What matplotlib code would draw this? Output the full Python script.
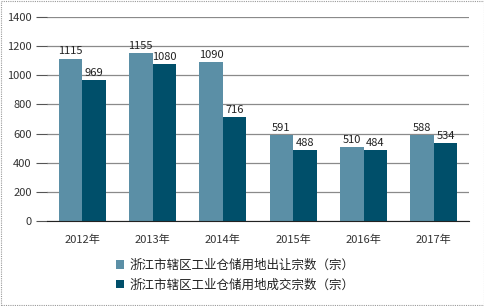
import matplotlib.pyplot as plt
import numpy as np

plt.rcParams['font.family'] = ['Noto Sans CJK SC', 'DejaVu Sans']

years = ['2012年', '2013年', '2014年', '2015年', '2016年', '2017年']
transfer = [1115, 1155, 1090, 591, 510, 588]
deals = [969, 1080, 716, 488, 484, 534]
names = ['浙江市辖区工业仓储用地出让宗数（宗）', '浙江市辖区工业仓储用地成交宗数（宗）']
yticks = [0, 200, 400, 600, 800, 1000, 1200, 1400]

c1 = '#5b8fa6'
c2 = '#004f6a'

fig = plt.figure(figsize=(4.85, 3.06), dpi=100)
ax = fig.add_axes([0.097, 0.278, 0.870, 0.666])

x = np.arange(len(years))
w = 0.335
b1 = ax.bar(x - w / 2, transfer, w, color=c1, label=names[0], zorder=2)
b2 = ax.bar(x + w / 2, deals, w, color=c2, label=names[1], zorder=2)

for rect, v in zip(b1, transfer):
    ax.text(rect.get_x() + rect.get_width() / 2, v + 15, str(v),
            ha='center', va='bottom', fontsize=8, color='#222222', zorder=4)
for rect, v in zip(b2, deals):
    ax.text(rect.get_x() + rect.get_width() / 2, v + 15, str(v),
            ha='center', va='bottom', fontsize=8, color='#222222', zorder=4)

ax.set_xlim(-0.5, len(years) - 0.5)
ax.set_ylim(0, 1400)
ax.set_yticks(yticks)
ax.set_xticks(x)
ax.set_xticklabels(years)
ax.yaxis.grid(True, color='#8a8a8a', linewidth=0.9, zorder=0)
ax.set_axisbelow(True)
for s in ['top', 'right', 'left']:
    ax.spines[s].set_visible(False)
ax.spines['bottom'].set_color('#222222')
ax.tick_params(axis='y', length=8, color='#555555', labelsize=8, labelcolor='#333333', pad=3)
ax.tick_params(axis='x', length=0, labelsize=8, labelcolor='#333333', pad=10)

fig.legend(handles=[b1, b2], labels=names, loc='upper left',
           bbox_to_anchor=(0.215, 0.19), frameon=False, fontsize=9,
           handlelength=0.7, handleheight=0.7, handletextpad=0.4,
           labelspacing=0.5, labelcolor='#222222')

fig.patches.append(plt.Rectangle((0.002, 0.003), 0.995, 0.993, transform=fig.transFigure,
                                 fill=False, edgecolor='#999999', linewidth=0.8,
                                 linestyle=(0, (1, 1))))

fig.savefig('out.png', dpi=100)
